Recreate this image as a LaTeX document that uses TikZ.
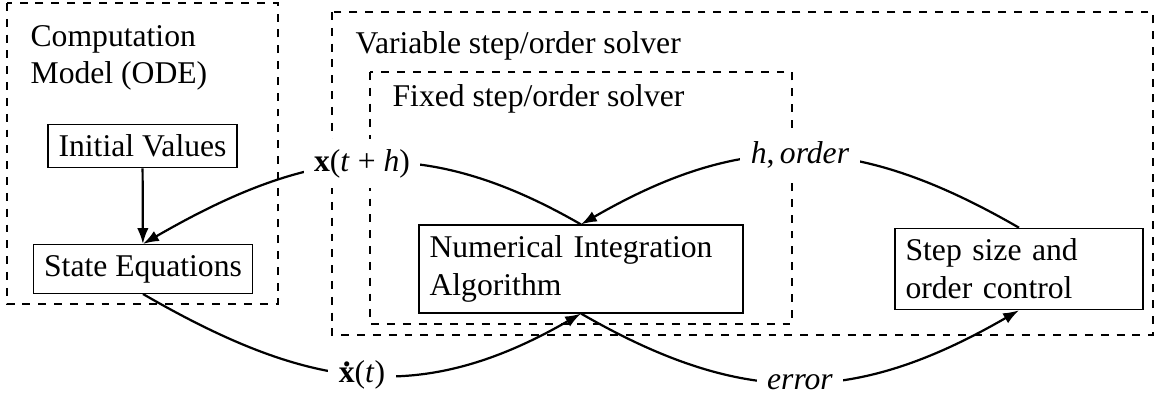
\documentclass[tikz,border=0pt]{standalone}
\usepackage{fontspec}
\setmainfont{Liberation Serif}
\usetikzlibrary{arrows.meta}
% bold x with a dot above it (time derivative)
\newcommand{\dotvec}{\textbf{\ooalign{x\cr\hidewidth\raisebox{0.5em}{.}\hidewidth\cr}}}
\begin{document}
\begin{tikzpicture}[x=0.316pt,y=0.316pt,
  group/.style={draw, dash pattern=on 2.5pt off 2.5pt, line width=0.35pt},
  block/.style={draw, line width=0.4pt, inner sep=3.33pt},
  caption/.style={anchor=base west, inner sep=0pt, align=left},
  flow/.style={line width=0.7pt, -{Latex[length=5pt,width=3.6pt]}},
  tag/.style={fill=white, inner sep=3.3pt}]
\useasboundingbox (0,0) rectangle (1155,-399);

% dashed groupings
\draw[group] (7,-3) rectangle (278,-304);
\draw[group] (332,-12) rectangle (1153,-335);
\draw[group] (370,-72) rectangle (792,-324);

% group captions (base anchor sits on the last line)
\node[caption] (model) at (30,-84) {Computation\\Model (ODE)};
\node[caption] (var) at (355,-54) {Variable step/order solver};
\node[caption] (fix) at (392,-107) {Fixed step/order solver};

% blocks
\node[block] (iv) at (142.5,-146) {Initial Values};
\node[block] (se) at (143,-269) {State Equations};
\node[block, text width=95.7pt, align=left] (ni) at (581,-269) {Numerical Integration\\Algorithm};
\node[block, text width=71.7pt, align=left] (sc) at (1019,-269) {Step size and\\order control};

% signal flow
\draw[flow] (iv) -- (se);
\draw[flow] (ni.north) to[out=150,in=30,looseness=1.1]
  node[tag] (xnext) {\textbf{x}(\textit{t}\hspace{0.25em}+\hspace{0.25em}\textit{h})} (se.north);
\draw[flow] (sc.north) to[out=150,in=30,looseness=1.1]
  node[tag] (hord) {\textit{h},\hspace{0.17em}\textit{order}} (ni.north);
\draw[flow] (se.south) to[out=-30,in=-150,looseness=1.1]
  node[tag] (xdot) {\dotvec(\textit{t})} (ni.south);
\draw[flow] (ni.south) to[out=-30,in=-150,looseness=1.1]
  node[tag] (err) {\textit{error}} (sc.south);
\end{tikzpicture}
\end{document}
